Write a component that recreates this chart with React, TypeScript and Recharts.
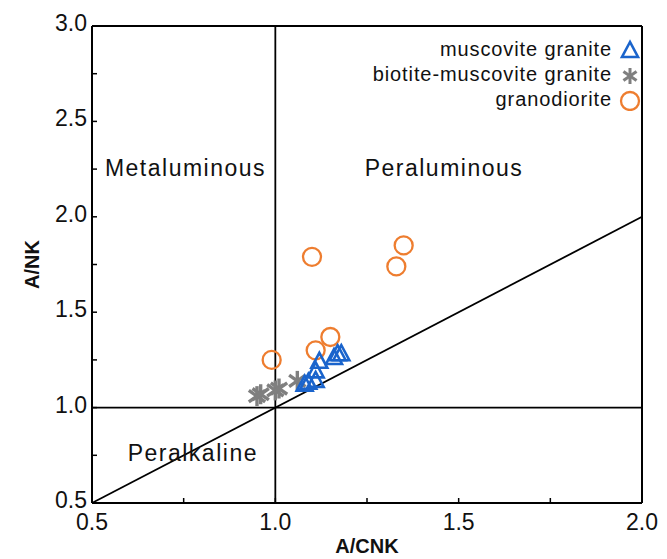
import React from "react";
import { ScatterChart, Scatter, XAxis, YAxis, ReferenceLine, ReferenceDot, Legend } from "recharts";

// A/CNK vs A/NK
const muscoviteX = [1.08, 1.09, 1.11, 1.11, 1.12, 1.16, 1.17, 1.18];
const muscoviteY = [1.12, 1.13, 1.14, 1.19, 1.24, 1.26, 1.28, 1.28];

const biotiteX = [0.95, 0.96, 1.0, 1.01, 1.06];
const biotiteY = [1.06, 1.07, 1.09, 1.1, 1.14];

const granodioriteX = [1.1, 1.35, 1.33, 1.15, 1.11, 0.99];
const granodioriteY = [1.79, 1.85, 1.74, 1.37, 1.3, 1.25];

const xTicks = [0.5, 0.75, 1.0, 1.25, 1.5, 1.75, 2.0];
const yTicks = [0.5, 0.75, 1.0, 1.25, 1.5, 1.75, 2.0, 2.25, 2.5, 2.75, 3.0];

const regionLabels = [
  { name: "Metaluminous", x: 0.755, y: 2.255 },
  { name: "Peraluminous", x: 1.46, y: 2.255 },
  { name: "Peralkaline", x: 0.775, y: 0.762 },
];

const FONT = "'Liberation Sans', Arial, sans-serif";
const BLUE = "#1a64cc";
const GRAY = "#7f7f7f";
const ORANGE = "#ee7d2f";

const toPoints = (xs: number[], ys: number[]) => xs.map((x, i) => ({ x, y: ys[i] }));

const isMajor = (v: number) => Math.abs(v * 2 - Math.round(v * 2)) < 1e-6;

const XTick = (props: any) => {
  const { x, y, payload } = props;
  return (
    <g>
      <line x1={x} y1={y} x2={x} y2={y - 5} stroke="#000" strokeWidth={1.5} />
      {isMajor(payload.value) && (
        <text x={x} y={y + 27} textAnchor="middle" fontSize={23} fontFamily={FONT} fill="#111">
          {payload.value.toFixed(1)}
        </text>
      )}
    </g>
  );
};

const YTick = (props: any) => {
  const { x, y, payload } = props;
  return (
    <g>
      <line x1={x} y1={y} x2={x + 5} y2={y} stroke="#000" strokeWidth={1.5} />
      {isMajor(payload.value) && (
        <text x={x - 5} y={y + 5} textAnchor="end" fontSize={23} fontFamily={FONT} fill="#111">
          {payload.value.toFixed(1)}
        </text>
      )}
    </g>
  );
};

const Triangle = ({ cx, cy }: any) => (
  <polygon
    points={`${cx},${cy - 9} ${cx - 8},${cy + 6} ${cx + 8},${cy + 6}`}
    fill="none"
    stroke={BLUE}
    strokeWidth={2.6}
  />
);

const starArm = (cx: number, cy: number, arm: number, w: number) =>
  [90, 35, -35].map((a) => {
    const rad = (a * Math.PI) / 180;
    const dx = arm * Math.cos(rad);
    const dy = arm * Math.sin(rad);
    return <line key={a} x1={cx - dx} y1={cy - dy} x2={cx + dx} y2={cy + dy} stroke={GRAY} strokeWidth={w} />;
  });

const Star = ({ cx, cy }: any) => <g>{starArm(cx, cy, 10, 3.4)}</g>;
const LegendStar = ({ cx, cy }: any) => <g>{starArm(cx, cy, 8, 3)}</g>;

const Circle = ({ cx, cy }: any) => (
  <circle cx={cx} cy={cy} r={9} fill="none" stroke={ORANGE} strokeWidth={2.3} />
);

const legendItems = [
  { label: "muscovite granite", Shape: Triangle },
  { label: "biotite-muscovite granite", Shape: LegendStar },
  { label: "granodiorite", Shape: Circle },
];

const renderLegend = () => (
  <div style={{ fontFamily: FONT, fontSize: 20, letterSpacing: 0.9, color: "#111" }}>
    {legendItems.map(({ label, Shape }) => (
      <div key={label} style={{ display: "flex", alignItems: "center", justifyContent: "flex-end", height: 25 }}>
        <span>{label}</span>
        <svg width={22} height={22} style={{ marginLeft: 7 }}>
          <Shape cx={11} cy={12} />
        </svg>
      </div>
    ))}
  </div>
);

const YLabel = ({ viewBox }: any) => {
  const cx = viewBox.x + 10;
  const cy = viewBox.y + viewBox.height / 2;
  return (
    <text x={cx} y={cy} transform={`rotate(-90 ${cx} ${cy})`} textAnchor="middle" dominantBaseline="central" fontSize={20} fontWeight="bold" fontFamily={FONT} fill="#111">
      A/NK
    </text>
  );
};

const XLabel = ({ viewBox }: any) => {
  const cx = viewBox.x + viewBox.width / 2;
  return (
    <text x={cx} y={viewBox.y + 50} textAnchor="middle" fontSize={20} fontWeight="bold" fontFamily={FONT} fill="#111">
      A/CNK
    </text>
  );
};

export default function App() {
  return (
    <ScatterChart width={659} height={551} margin={{ top: 18, right: 25, left: 14, bottom: 11 }}>
      <XAxis
        type="number"
        dataKey="x"
        domain={[0.5, 2]}
        ticks={xTicks}
        interval={0}
        allowDataOverflow
        tickSize={0}
        tickMargin={0}
        tick={<XTick />}
        axisLine={{ stroke: "#000", strokeWidth: 2 }}
        height={45}
        label={<XLabel />}
      />
      <YAxis
        type="number"
        dataKey="y"
        domain={[0.5, 3]}
        ticks={yTicks}
        interval={0}
        allowDataOverflow
        tickSize={0}
        tickMargin={0}
        tick={<YTick />}
        axisLine={{ stroke: "#000", strokeWidth: 2 }}
        width={70}
        label={<YLabel />}
      />
      <ReferenceLine x={2} stroke="#000" strokeWidth={2} />
      <ReferenceLine y={3} stroke="#000" strokeWidth={2} />
      <ReferenceLine x={1} stroke="#000" strokeWidth={1.8} />
      <ReferenceLine y={1} stroke="#000" strokeWidth={1.8} />
      <ReferenceLine segment={[{ x: 0.5, y: 0.5 }, { x: 2, y: 2 }]} stroke="#000" strokeWidth={1.8} />
      {regionLabels.map((r) => (
        <ReferenceDot
          key={r.name}
          x={r.x}
          y={r.y}
          r={0}
          fill="none"
          stroke="none"
          label={{ value: r.name, position: "center", fontSize: 23, fontFamily: FONT, fill: "#111", letterSpacing: 1.5 }}
        />
      ))}
      <Scatter name="granodiorite" data={toPoints(granodioriteX, granodioriteY)} shape={<Circle />} isAnimationActive={false} />
      <Scatter name="biotite-muscovite granite" data={toPoints(biotiteX, biotiteY)} shape={<Star />} isAnimationActive={false} />
      <Scatter name="muscovite granite" data={toPoints(muscoviteX, muscoviteY)} shape={<Triangle />} isAnimationActive={false} />
      <Legend
        layout="vertical"
        align="center"
        verticalAlign="middle"
        content={renderLegend}
        wrapperStyle={{ top: 29, right: 26, left: "auto", width: 330 }}
      />
    </ScatterChart>
  );
}
